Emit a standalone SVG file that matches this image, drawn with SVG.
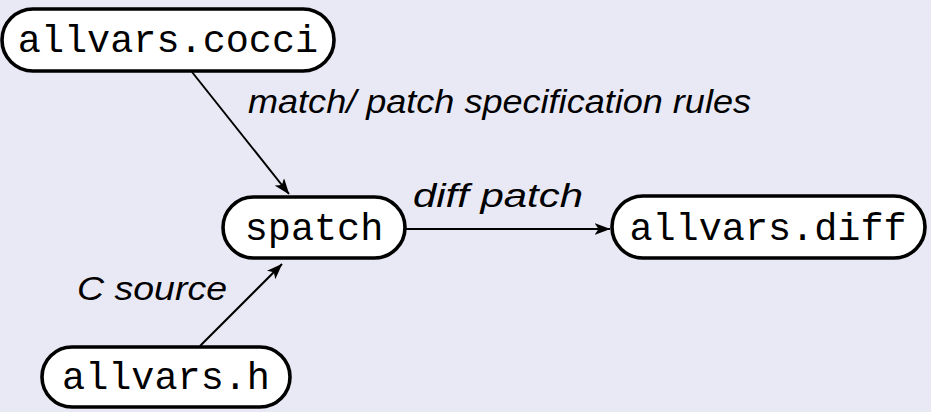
<svg xmlns="http://www.w3.org/2000/svg" width="931" height="412" viewBox="0 0 931 412">
  <defs>
    <marker id="arrow" viewBox="0 0 16 12" refX="15.5" refY="6" markerWidth="16" markerHeight="12" markerUnits="userSpaceOnUse" orient="auto">
      <path d="M0,0 L16,6 L0,12 L4,6 Z" fill="#000"/>
    </marker>
  </defs>
  <style>
    .node rect { fill: #ffffff; stroke: #000; stroke-width: 3.6; }
    .node text { font-family: "Liberation Mono", "DejaVu Sans Mono", monospace; font-size: 38.5px; fill: #000; text-anchor: middle; }
    .edge { stroke: #000; stroke-width: 2; fill: none; marker-end: url(#arrow); }
    .label { font-family: "Liberation Sans", "Open Sans", sans-serif; font-style: italic; font-size: 33px; fill: #000; }
  </style>
  <rect x="0" y="0" width="931" height="412" fill="#e9e9f5"/>

  <g id="connectors">
    <line class="edge" x1="192" y1="72" x2="289" y2="194"/>
    <line class="edge" x1="200" y1="346" x2="282" y2="264"/>
    <line class="edge" x1="406" y1="229" x2="610" y2="229"/>
    <text class="label" x="248" y="113" textLength="503" lengthAdjust="spacingAndGlyphs">match/ patch specification rules</text>
    <text class="label" x="413" y="207" textLength="170" lengthAdjust="spacingAndGlyphs">diff patch</text>
    <text class="label" x="77" y="300" textLength="150" lengthAdjust="spacingAndGlyphs">C source</text>
  </g>

  <g id="cocci" class="node">
    <rect x="2" y="9" width="332" height="62" rx="31"/>
    <text x="168" y="52">allvars.cocci</text>
  </g>
  <g id="spatch" class="node">
    <rect x="223" y="197" width="182" height="61" rx="30.5"/>
    <text x="314" y="240">spatch</text>
  </g>
  <g id="diff" class="node">
    <rect x="612" y="196" width="313" height="62" rx="31"/>
    <text x="768" y="240">allvars.diff</text>
  </g>
  <g id="h" class="node">
    <rect x="42" y="347" width="248" height="60" rx="30"/>
    <text x="166" y="389">allvars.h</text>
  </g>
</svg>
